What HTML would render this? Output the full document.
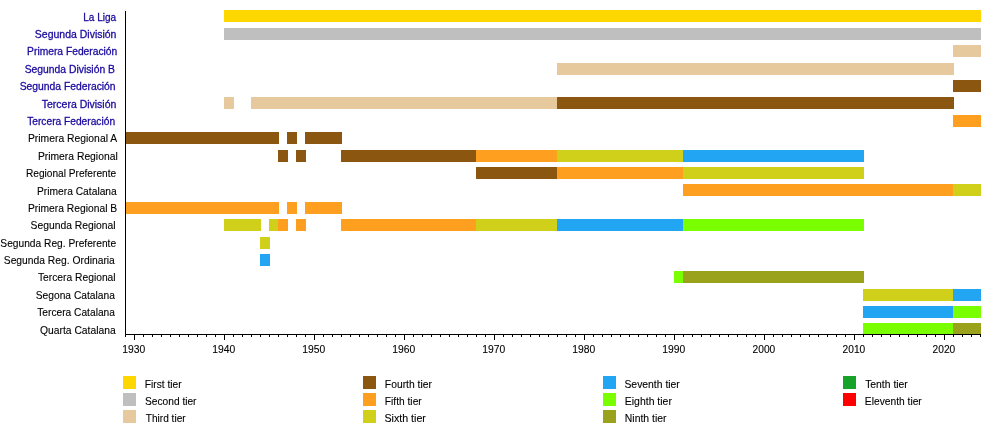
<!DOCTYPE html>
<html><head><meta charset="utf-8"><style>
html,body{margin:0;padding:0;background:#fff;width:1000px;height:424px;overflow:hidden}
svg{display:block;will-change:transform}
text{font-family:"Liberation Sans",sans-serif;}
</style></head><body>
<svg width="1000" height="424" viewBox="0 0 1000 424">
<rect width="1000" height="424" fill="#fff"/>

<g shape-rendering="crispEdges">
<rect x="224" y="10" width="757" height="12" fill="#FFD700"/>
<rect x="224" y="28" width="757" height="12" fill="#BFBFBF"/>
<rect x="953" y="45" width="28" height="12" fill="#E6C99C"/>
<rect x="557" y="63" width="397" height="12" fill="#E6C99C"/>
<rect x="953" y="80" width="28" height="12" fill="#8B560F"/>
<rect x="224" y="97" width="10" height="12" fill="#E6C99C"/>
<rect x="251" y="97" width="307" height="12" fill="#E6C99C"/>
<rect x="557" y="97" width="397" height="12" fill="#8B560F"/>
<rect x="953" y="115" width="28" height="12" fill="#FF9F1F"/>
<rect x="125" y="132" width="154" height="12" fill="#8B560F"/>
<rect x="287" y="132" width="10" height="12" fill="#8B560F"/>
<rect x="305" y="132" width="37" height="12" fill="#8B560F"/>
<rect x="278" y="150" width="10" height="12" fill="#8B560F"/>
<rect x="296" y="150" width="10" height="12" fill="#8B560F"/>
<rect x="341" y="150" width="136" height="12" fill="#8B560F"/>
<rect x="476" y="150" width="82" height="12" fill="#FF9F1F"/>
<rect x="557" y="150" width="127" height="12" fill="#D0CF1A"/>
<rect x="683" y="150" width="181" height="12" fill="#22A5F2"/>
<rect x="476" y="167" width="82" height="12" fill="#8B560F"/>
<rect x="557" y="167" width="127" height="12" fill="#FF9F1F"/>
<rect x="683" y="167" width="181" height="12" fill="#D0CF1A"/>
<rect x="683" y="184" width="271" height="12" fill="#FF9F1F"/>
<rect x="953" y="184" width="28" height="12" fill="#D0CF1A"/>
<rect x="125" y="202" width="154" height="12" fill="#FF9F1F"/>
<rect x="287" y="202" width="10" height="12" fill="#FF9F1F"/>
<rect x="305" y="202" width="37" height="12" fill="#FF9F1F"/>
<rect x="224" y="219" width="37" height="12" fill="#D0CF1A"/>
<rect x="269" y="219" width="10" height="12" fill="#D0CF1A"/>
<rect x="278" y="219" width="10" height="12" fill="#FF9F1F"/>
<rect x="296" y="219" width="10" height="12" fill="#FF9F1F"/>
<rect x="341" y="219" width="136" height="12" fill="#FF9F1F"/>
<rect x="476" y="219" width="82" height="12" fill="#D0CF1A"/>
<rect x="557" y="219" width="127" height="12" fill="#22A5F2"/>
<rect x="683" y="219" width="181" height="12" fill="#7AFF00"/>
<rect x="260" y="237" width="10" height="12" fill="#D0CF1A"/>
<rect x="260" y="254" width="10" height="12" fill="#22A5F2"/>
<rect x="674" y="271" width="10" height="12" fill="#7AFF00"/>
<rect x="683" y="271" width="181" height="12" fill="#99A21A"/>
<rect x="863" y="289" width="91" height="12" fill="#D0CF1A"/>
<rect x="953" y="289" width="28" height="12" fill="#22A5F2"/>
<rect x="863" y="306" width="91" height="12" fill="#22A5F2"/>
<rect x="953" y="306" width="28" height="12" fill="#7AFF00"/>
<rect x="863" y="323" width="91" height="12" fill="#7AFF00"/>
<rect x="953" y="323" width="28" height="12" fill="#99A21A"/>
</g>
<g shape-rendering="crispEdges" fill="#000">
<rect x="125" y="11" width="1" height="324"/>
<rect x="125" y="334" width="856" height="1"/>
<rect x="125" y="335" width="1" height="2"/>
<rect x="134" y="335" width="1" height="5"/>
<rect x="143" y="335" width="1" height="2"/>
<rect x="152" y="335" width="1" height="2"/>
<rect x="161" y="335" width="1" height="2"/>
<rect x="170" y="335" width="1" height="2"/>
<rect x="179" y="335" width="1" height="2"/>
<rect x="188" y="335" width="1" height="2"/>
<rect x="197" y="335" width="1" height="2"/>
<rect x="206" y="335" width="1" height="2"/>
<rect x="215" y="335" width="1" height="2"/>
<rect x="224" y="335" width="1" height="5"/>
<rect x="233" y="335" width="1" height="2"/>
<rect x="242" y="335" width="1" height="2"/>
<rect x="251" y="335" width="1" height="2"/>
<rect x="260" y="335" width="1" height="2"/>
<rect x="269" y="335" width="1" height="2"/>
<rect x="278" y="335" width="1" height="2"/>
<rect x="287" y="335" width="1" height="2"/>
<rect x="296" y="335" width="1" height="2"/>
<rect x="305" y="335" width="1" height="2"/>
<rect x="314" y="335" width="1" height="5"/>
<rect x="323" y="335" width="1" height="2"/>
<rect x="332" y="335" width="1" height="2"/>
<rect x="341" y="335" width="1" height="2"/>
<rect x="350" y="335" width="1" height="2"/>
<rect x="359" y="335" width="1" height="2"/>
<rect x="368" y="335" width="1" height="2"/>
<rect x="377" y="335" width="1" height="2"/>
<rect x="386" y="335" width="1" height="2"/>
<rect x="395" y="335" width="1" height="2"/>
<rect x="404" y="335" width="1" height="5"/>
<rect x="413" y="335" width="1" height="2"/>
<rect x="422" y="335" width="1" height="2"/>
<rect x="431" y="335" width="1" height="2"/>
<rect x="440" y="335" width="1" height="2"/>
<rect x="449" y="335" width="1" height="2"/>
<rect x="458" y="335" width="1" height="2"/>
<rect x="467" y="335" width="1" height="2"/>
<rect x="476" y="335" width="1" height="2"/>
<rect x="485" y="335" width="1" height="2"/>
<rect x="494" y="335" width="1" height="5"/>
<rect x="503" y="335" width="1" height="2"/>
<rect x="512" y="335" width="1" height="2"/>
<rect x="521" y="335" width="1" height="2"/>
<rect x="530" y="335" width="1" height="2"/>
<rect x="539" y="335" width="1" height="2"/>
<rect x="548" y="335" width="1" height="2"/>
<rect x="557" y="335" width="1" height="2"/>
<rect x="566" y="335" width="1" height="2"/>
<rect x="575" y="335" width="1" height="2"/>
<rect x="584" y="335" width="1" height="5"/>
<rect x="593" y="335" width="1" height="2"/>
<rect x="602" y="335" width="1" height="2"/>
<rect x="611" y="335" width="1" height="2"/>
<rect x="620" y="335" width="1" height="2"/>
<rect x="629" y="335" width="1" height="2"/>
<rect x="638" y="335" width="1" height="2"/>
<rect x="647" y="335" width="1" height="2"/>
<rect x="656" y="335" width="1" height="2"/>
<rect x="665" y="335" width="1" height="2"/>
<rect x="674" y="335" width="1" height="5"/>
<rect x="683" y="335" width="1" height="2"/>
<rect x="692" y="335" width="1" height="2"/>
<rect x="701" y="335" width="1" height="2"/>
<rect x="710" y="335" width="1" height="2"/>
<rect x="719" y="335" width="1" height="2"/>
<rect x="728" y="335" width="1" height="2"/>
<rect x="737" y="335" width="1" height="2"/>
<rect x="746" y="335" width="1" height="2"/>
<rect x="755" y="335" width="1" height="2"/>
<rect x="764" y="335" width="1" height="5"/>
<rect x="773" y="335" width="1" height="2"/>
<rect x="782" y="335" width="1" height="2"/>
<rect x="791" y="335" width="1" height="2"/>
<rect x="800" y="335" width="1" height="2"/>
<rect x="809" y="335" width="1" height="2"/>
<rect x="818" y="335" width="1" height="2"/>
<rect x="827" y="335" width="1" height="2"/>
<rect x="836" y="335" width="1" height="2"/>
<rect x="845" y="335" width="1" height="2"/>
<rect x="854" y="335" width="1" height="5"/>
<rect x="863" y="335" width="1" height="2"/>
<rect x="872" y="335" width="1" height="2"/>
<rect x="881" y="335" width="1" height="2"/>
<rect x="890" y="335" width="1" height="2"/>
<rect x="899" y="335" width="1" height="2"/>
<rect x="908" y="335" width="1" height="2"/>
<rect x="917" y="335" width="1" height="2"/>
<rect x="926" y="335" width="1" height="2"/>
<rect x="935" y="335" width="1" height="2"/>
<rect x="944" y="335" width="1" height="5"/>
<rect x="953" y="335" width="1" height="2"/>
<rect x="962" y="335" width="1" height="2"/>
<rect x="971" y="335" width="1" height="2"/>
<rect x="980" y="335" width="1" height="2"/>
</g>
<g font-size="10.4">
<text transform="translate(83.21 20.6) scale(0.9638 1)" fill="#1a0a9e" stroke="#1a0a9e" stroke-width="0.28">La Liga</text>
<text transform="translate(34.86 37.99) scale(1.0087 1)" fill="#1a0a9e" stroke="#1a0a9e" stroke-width="0.28">Segunda División</text>
<text transform="translate(27.11 55.38) scale(0.9881 1)" fill="#1a0a9e" stroke="#1a0a9e" stroke-width="0.28">Primera Federación</text>
<text transform="translate(24.73 72.77) scale(0.9953 1)" fill="#1a0a9e" stroke="#1a0a9e" stroke-width="0.28">Segunda División B</text>
<text transform="translate(19.63 90.16) scale(0.9957 1)" fill="#1a0a9e" stroke="#1a0a9e" stroke-width="0.28">Segunda Federación</text>
<text transform="translate(41.75 107.55) scale(1.0097 1)" fill="#1a0a9e" stroke="#1a0a9e" stroke-width="0.28">Tercera División</text>
<text transform="translate(27.19 124.94) scale(0.9819 1)" fill="#1a0a9e" stroke="#1a0a9e" stroke-width="0.28">Tercera Federación</text>
<text transform="translate(27.91 142.33) scale(0.9970 1)" fill="#000" stroke="#000" stroke-width="0.1">Primera Regional A</text>
<text transform="translate(37.89 159.72) scale(0.9942 1)" fill="#000" stroke="#000" stroke-width="0.1">Primera Regional</text>
<text transform="translate(25.92 177.11) scale(0.9764 1)" fill="#000" stroke="#000" stroke-width="0.1">Regional Preferente</text>
<text transform="translate(36.92 194.5) scale(0.9875 1)" fill="#000" stroke="#000" stroke-width="0.1">Primera Catalana</text>
<text transform="translate(27.92 211.89) scale(0.9918 1)" fill="#000" stroke="#000" stroke-width="0.1">Primera Regional B</text>
<text transform="translate(30.54 229.28) scale(0.9961 1)" fill="#000" stroke="#000" stroke-width="0.1">Segunda Regional</text>
<text transform="translate(0.36 246.67) scale(0.9823 1)" fill="#000" stroke="#000" stroke-width="0.1">Segunda Reg. Preferente</text>
<text transform="translate(3.76 264.06) scale(0.9915 1)" fill="#000" stroke="#000" stroke-width="0.1">Segunda Reg. Ordinaria</text>
<text transform="translate(37.94 281.45) scale(0.9900 1)" fill="#000" stroke="#000" stroke-width="0.1">Tercera Regional</text>
<text transform="translate(35.74 298.84) scale(0.9861 1)" fill="#000" stroke="#000" stroke-width="0.1">Segona Catalana</text>
<text transform="translate(37.23 316.23) scale(0.9817 1)" fill="#000" stroke="#000" stroke-width="0.1">Tercera Catalana</text>
<text transform="translate(39.95 333.62) scale(0.9932 1)" fill="#000" stroke="#000" stroke-width="0.1">Quarta Catalana</text>
</g>
<g font-size="10.4" fill="#000" stroke="#000" stroke-width="0.1">
<text transform="translate(122.26 353) scale(0.9934 1)">1930</text>
<text transform="translate(212.26 353) scale(0.9934 1)">1940</text>
<text transform="translate(302.26 353) scale(0.9934 1)">1950</text>
<text transform="translate(392.26 353) scale(0.9934 1)">1960</text>
<text transform="translate(482.26 353) scale(0.9934 1)">1970</text>
<text transform="translate(572.26 353) scale(0.9934 1)">1980</text>
<text transform="translate(662.26 353) scale(0.9934 1)">1990</text>
<text transform="translate(752.54 353) scale(0.9813 1)">2000</text>
<text transform="translate(842.54 353) scale(0.9813 1)">2010</text>
<text transform="translate(932.54 353) scale(0.9813 1)">2020</text>
</g>
<g font-size="10.4" fill="#000" stroke="#000" stroke-width="0.1">
<rect x="123" y="376" width="13" height="13" fill="#FFD700" stroke="none" shape-rendering="crispEdges"/>
<text transform="translate(144.86 388) scale(0.9814 1)">First tier</text>
<rect x="123" y="393" width="13" height="13" fill="#BFBFBF" stroke="none" shape-rendering="crispEdges"/>
<text transform="translate(145.06 405) scale(0.9789 1)">Second tier</text>
<rect x="123" y="410" width="13" height="13" fill="#E6C99C" stroke="none" shape-rendering="crispEdges"/>
<text transform="translate(145.72 422) scale(0.9741 1)">Third tier</text>
<rect x="363" y="376" width="13" height="13" fill="#8B560F" stroke="none" shape-rendering="crispEdges"/>
<text transform="translate(384.84 388) scale(0.9940 1)">Fourth tier</text>
<rect x="363" y="393" width="13" height="13" fill="#FF9F1F" stroke="none" shape-rendering="crispEdges"/>
<text transform="translate(384.86 405) scale(0.9814 1)">Fifth tier</text>
<rect x="363" y="410" width="13" height="13" fill="#D0CF1A" stroke="none" shape-rendering="crispEdges"/>
<text transform="translate(384.46 422) scale(1.0234 1)">Sixth tier</text>
<rect x="603" y="376" width="13" height="13" fill="#22A5F2" stroke="none" shape-rendering="crispEdges"/>
<text transform="translate(624.45 388) scale(0.9995 1)">Seventh tier</text>
<rect x="603" y="393" width="13" height="13" fill="#7AFF00" stroke="none" shape-rendering="crispEdges"/>
<text transform="translate(624.81 405) scale(1.0058 1)">Eighth tier</text>
<rect x="603" y="410" width="13" height="13" fill="#99A21A" stroke="none" shape-rendering="crispEdges"/>
<text transform="translate(624.81 422) scale(1.0022 1)">Ninth tier</text>
<rect x="843" y="376" width="13" height="13" fill="#17A22A" stroke="none" shape-rendering="crispEdges"/>
<text transform="translate(865.14 388) scale(0.9995 1)">Tenth tier</text>
<rect x="843" y="393" width="13" height="13" fill="#FF0000" stroke="none" shape-rendering="crispEdges"/>
<text transform="translate(864.85 405) scale(0.9863 1)">Eleventh tier</text>
</g>
</svg>
</body></html>
